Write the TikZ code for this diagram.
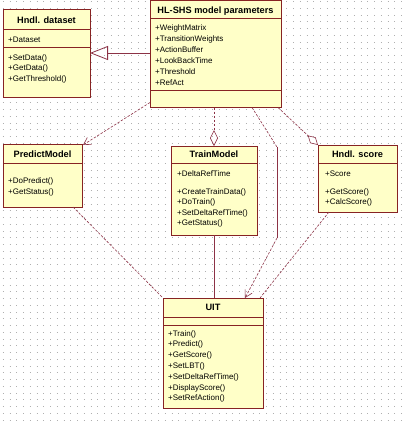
\documentclass[tikz,border=0pt]{standalone}
\usepackage{fontspec}
\setmainfont{Liberation Sans}
\usetikzlibrary{arrows.meta,calc}
\definecolor{boxfill}{RGB}{255,255,200}
\definecolor{boxline}{RGB}{135,35,35}
\definecolor{conn}{RGB}{140,50,70}
\definecolor{griddot}{RGB}{175,175,175}
\begin{document}
\begin{tikzpicture}[x=1pt,y=-1pt,
 box/.style={draw=boxline, fill=boxfill, line width=0.8pt, anchor=north west, inner sep=0pt, outer sep=0pt},
 sep/.style={draw=boxline, line width=0.8pt},
 title/.style={font=\bfseries\fontsize{9.2}{10}\selectfont, inner sep=0pt, anchor=base},
 item/.style={font=\fontsize{8}{10}\selectfont, inner sep=0pt, anchor=base west},
 dep/.style={draw=conn, line width=0.6pt, dash pattern=on 2.5pt off 1.5pt},
 rel/.style={draw=conn, line width=0.8pt},
 thin/.style={draw=conn, line width=0.6pt},
]
\useasboundingbox (0,0) rectangle (407,421);
\fill[white] (0,0) rectangle (407,421);
% dotted grid
\foreach \k in {0,...,62}
  \draw[griddot, line width=1pt, dash pattern=on 1pt off 5.75pt] (2.8, {1.5+\k*6.75}) -- (407, {1.5+\k*6.75});

% ---------- Hndl. dataset ----------
\node[box, minimum width=87pt, minimum height=88pt] (ds) at (3,9) {};
\draw[sep] (3,29) -- (90,29);
\draw[sep] (3,47) -- (90,47);
\node[title] (dst) at (46.5,23) {Hndl. dataset};
\node[item] (dsa) at (8,42.5) {+Dataset};
\foreach \t [count=\i] in {+SetData(),+GetData(),+GetThreshold()}
  \node[item] (dsm\i) at (8,{49.3+10.7*\i}) {\t};

% ---------- HL-SHS model parameters ----------
\node[box, minimum width=131pt, minimum height=107pt] (hl) at (150,0.5) {};
\draw[sep] (150,18) -- (281,18);
\draw[sep] (150,90) -- (281,90);
\node[title] (hlt) at (215.5,13.5) {HL-SHS model parameters};
\foreach \t [count=\i] in {+WeightMatrix,+TransitionWeights,+ActionBuffer,+LookBackTime,+Threshold,+RefAct}
  \node[item] (hla\i) at (155,{18.9+11.1*\i}) {\t};

% ---------- PredictModel ----------
\node[box, minimum width=79pt, minimum height=63pt] (pm) at (3,144) {};
\draw[sep] (3,163) -- (82,163);
\node[title] (pmt) at (42.5,157) {PredictModel};
\foreach \t [count=\i] in {+DoPredict(),+GetStatus()}
  \node[item] (pmm\i) at (8,{172+11*\i}) {\t};

% ---------- TrainModel ----------
\node[box, minimum width=86pt, minimum height=89pt] (tm) at (171,146) {};
\draw[sep] (171,163) -- (257,163);
\node[title] (tmt) at (214,157.5) {TrainModel};
\node[item] (tma) at (177,176) {+DeltaRefTime};
\foreach \t [count=\i] in {+CreateTrainData(),+DoTrain(),+SetDeltaRefTime(),+GetStatus()}
  \node[item] (tmm\i) at (177,{183.5+10.5*\i}) {\t};

% ---------- Hndl. score ----------
\node[box, minimum width=79pt, minimum height=67pt] (hs) at (318,145) {};
\draw[sep] (318,163) -- (397,163);
\node[title] (hst) at (357.5,157) {Hndl. score};
\node[item] (hsa) at (325,176) {+Score};
\foreach \t [count=\i] in {+GetScore(),+CalcScore()}
  \node[item] (hsm\i) at (325,{183.5+10.5*\i}) {\t};

% ---------- UIT ----------
\node[box, minimum width=100pt, minimum height=110pt] (uit) at (163,298) {};
\draw[sep] (163,317) -- (263,317);
\draw[sep] (163,325) -- (263,325);
\node[title] (uitt) at (213,310.5) {UIT};
\foreach \t [count=\i] in {+Train(),+Predict(),+GetScore(),+SetLBT(),+SetDeltaRefTime(),+DisplayScore(),+SetRefAction()}
  \node[item] (uitm\i) at (168,{325.2+10.8*\i}) {\t};

% ---------- connectors ----------
% generalization
\draw[rel, -{Triangle[open,length=18pt,width=14pt]}]
  ($(hl.north west)+(0,52.5)$) -- ($(ds.north east)+(0,44)$);
% HL-SHS -> PredictModel
\draw[dep, -{Straight Barb[length=7pt,width=8pt]}]
  ($(hl.south west)+(0,-5)$) -- ($(pm.north east)+(1,1)$);
% HL-SHS -> TrainModel (diamond)
\draw[dep, -{Diamond[open,length=16pt,width=8pt]}]
  (tm.north |- hl.south) -- (tm.north);
% HL-SHS -> Hndl. score (diamond)
\draw[dep, -{Diamond[open,length=14pt,width=8pt]}]
  ($(hl.south east)+(-3,0)$) -- (hs.north west);
% HL-SHS -> UIT
\coordinate (b1) at (277,147);
\coordinate (b2) at (277,238);
\draw[dep] ($(hl.south west)+(102,0)$) -- (b1);
\draw[thin] (b1) -- (b2);
\draw[dep, -{Straight Barb[length=7pt,width=8pt]}] (b2) -- ($(uit.north east)+(-18,0)$);
% Hndl. score -> UIT
\draw[dep] ($(hs.south west)+(11,0)$) -- ($(uit.north east)+(-3,0)$);
% PredictModel -> UIT
\draw[dep] ($(pm.south east)+(-9,0)$) -- (uit.north west);
% TrainModel -> UIT
\draw[rel] (tm.south) -- (uit.north -| tm.south);
\end{tikzpicture}
\end{document}
